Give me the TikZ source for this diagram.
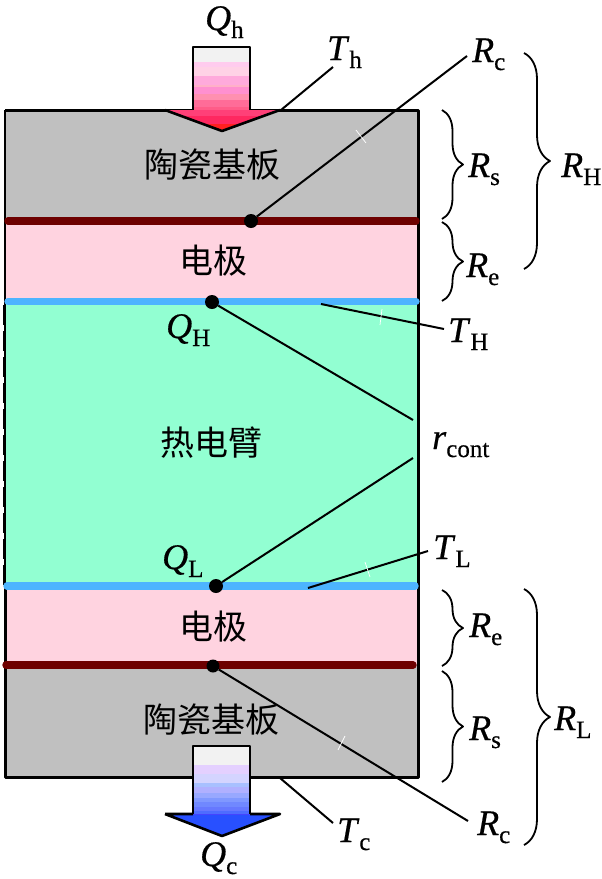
\documentclass[tikz,border=0pt]{standalone}
\usepackage{fontspec}
\setmainfont{Liberation Serif}[FakeBold=0.5]
\newfontfamily\cjk{Noto Sans CJK SC}
\usetikzlibrary{decorations.pathreplacing}

\definecolor{substr}{HTML}{C0C0C0}
\definecolor{elec}{HTML}{FFD3E0}
\definecolor{leg}{HTML}{92FFD2}
\definecolor{hotbar}{HTML}{6E0000}
\definecolor{coldbar}{HTML}{4DB4FF}

% symbol with an upright subscript
\newcommand{\symb}[2]{\textit{#1}\lower 8pt\hbox{\fontsize{25}{25}\selectfont #2}}

\tikzset{
  lab/.style={inner sep=0pt,anchor=base west,font=\fontsize{36}{36}\selectfont},
  cn/.style={inner sep=0pt,font=\fontsize{34}{34}\selectfont\cjk},
  dot/.style={circle,fill=black,inner sep=0pt,minimum size=14pt},
  bar/.style={line width=7.4pt,line cap=round},
  lead/.style={line width=2pt},
  rbrace/.style={line width=1.8pt,decorate,decoration={brace,amplitude=#1}},
  rbrace/.default=21pt,
  tick/.style={white,line width=0.7pt}
}

\begin{document}
\begin{tikzpicture}[line join=round,x=1pt,y=-1pt]
  \useasboundingbox (0,0) rectangle (602,879);
  % Layers
  \fill[substr] (5,110) rectangle (418,221);
  \fill[elec] (5,221) rectangle (418,301);
  \fill[leg] (5,301) rectangle (418,586);
  \fill[elec] (5,586) rectangle (418,665);
  \fill[substr] (5,665) rectangle (418,777);
  % Outline
  \draw[line width=3pt] (5,110)--(418,110)--(418,777)--(5,777)--(5,586);
  \draw[line width=2.6pt] (5,110)--(5,301);
  \draw[line width=1.5pt] (5,301)--(5,586);
  \draw[line width=2.6pt,dash pattern=on 20pt off 6pt] (4,305)--(4,586);
  % Contact layers
  \draw[bar,hotbar] (8,221)--(416,221);
  \draw[bar,coldbar] (8,301.5)--(416,301.5);
  \draw[bar,coldbar] (7,586)--(415,586);
  \draw[bar,hotbar] (6,665)--(413,665);
  % Hot side arrow
  \begin{scope}
    \clip (193,47)--(250,47)--(250,110)--(280,110)--(222,131)--(165,110)--(193,110)--cycle;
    \foreach \ya/\yb/\col in {47/62/F2F2F2,62/67/FFCCEE,67/76/FFD2E6,76/85/FFAADC,85/87/FFB0C8,
      87/94/FF90D0,94/100/FF90B0,100/107/FF6C98,107/110/FF5C88,110/116/FF4078,116/124/FF2860,124/132/FF2020}{
      \definecolor{band}{HTML}{\col}
      \fill[band] (160,\ya) rectangle (285,\yb);
    }
  \end{scope}
  \draw[line width=2.6pt] (193,110)--(193,47)--(250,47)--(250,110);
  \draw[line width=2.6pt] (165,110)--(222,131)--(280,110);
  % Cold side arrow
  \begin{scope}
    \clip (193,746)--(250,746)--(250,814)--(280,814)--(222,836)--(165,814)--(193,814)--cycle;
    \foreach \ya/\yb/\col in {746/765/F2F2F2,765/774/E4D0FF,774/783/D4D4FF,783/787/A8C0FF,787/793/B0B0FF,
      793/798/98A8FF,798/802/8098FF,802/807/7088FF,807/811/6678FF,811/814/4E6CFF,814/815/4444FF,815/837/2850FF}{
      \definecolor{band}{HTML}{\col}
      \fill[band] (160,\ya) rectangle (285,\yb);
    }
  \end{scope}
  \draw[line width=2.6pt] (193,814)--(193,746)--(250,746)--(250,814);
  \draw[line width=2.6pt] (165,814)--(193,814) (250,814)--(280,814)--(222,836)--(165,814);
  % Layer names
  \node[cn] (top sub) at (212,165) {陶瓷基板};
  \node[cn] (top el) at (213,261) {电极};
  \node[cn] (arm) at (211,443) {热电臂};
  \node[cn] (low el) at (213,627) {电极};
  \node[cn] (low sub) at (211,720) {陶瓷基板};
  % Symbols
  \node[lab] (Qh) at (205,30) {\symb{Q}{h}};
  \node[lab] (Th) at (327,60) {\symb{T}{h}};
  \node[lab] (Rc1) at (472,62) {\symb{R}{c}};
  \node[lab] (Rs1) at (468,177) {\symb{R}{s}};
  \node[lab] (RH) at (561,177) {\symb{R}{H}};
  \node[lab] (Re1) at (466,277) {\symb{R}{e}};
  \node[lab] (QH) at (166,338) {\symb{Q}{H}};
  \node[lab] (TH) at (448,342) {\symb{T}{H}};
  \node[lab] (rcont) at (432,449) {\symb{r}{cont}};
  \node[lab] (TL) at (433,559) {\symb{T}{L}};
  \node[lab] (QL) at (162,569) {\symb{Q}{L}};
  \node[lab] (Re2) at (469,637) {\symb{R}{e}};
  \node[lab] (RL) at (554,730) {\symb{R}{L}};
  \node[lab] (Rs2) at (469,740) {\symb{R}{s}};
  \node[lab] (Rc2) at (477,835) {\symb{R}{c}};
  \node[lab] (Tc) at (337,842) {\symb{T}{c}};
  \node[lab] (Qc) at (200,866) {\symb{Q}{c}};
  % Contact points
  \node[dot] (p1) at (251,221) {};
  \node[dot] (p2) at (212,302) {};
  \node[dot] (p3) at (216,586) {};
  \node[dot,minimum size=13pt] (p4) at (213,666) {};
  % Free ends of the leaders
  \coordinate (a1) at (281,110);
  \coordinate (a2) at (333,67);
  \coordinate (b1) at (467,56);
  \coordinate (c1) at (413,420);
  \coordinate (c2) at (413,458);
  \coordinate (d1) at (321,304);
  \coordinate (d2) at (444,329);
  \coordinate (e1) at (308,588);
  \coordinate (e2) at (428,551);
  \coordinate (f1) at (468,821);
  \coordinate (g1) at (280,778);
  \coordinate (g2) at (333,823);
  % Leaders
  \draw[lead] (a1)--(a2);
  \draw[lead] (p1)--(b1);
  \draw[lead] (p2)--(c1);
  \draw[lead] (p3)--(c2);
  \draw[lead] (d1)--(d2);
  \draw[lead] (e1)--(e2);
  \draw[lead] (p4)--(f1);
  \draw[lead] (g1)--(g2);
  % Small breaks on the leaders
  \foreach \xa/\ya/\xb/\yb in {356/130/366/143,382/309/380/325,365/562/370/577,345/736/338/750}{
    \draw[tick] (\xa,\ya)--(\xb,\yb);
  }
  % Braces
  \draw[rbrace] (442,110)--(442,219);
  \draw[rbrace] (442,222)--(442,301);
  \draw[rbrace=26pt] (524,53)--(524,269);
  \draw[rbrace] (442,590)--(442,666);
  \draw[rbrace] (442,671)--(442,782);
  \draw[rbrace=26pt] (524,589)--(524,845);
\end{tikzpicture}
\end{document}
